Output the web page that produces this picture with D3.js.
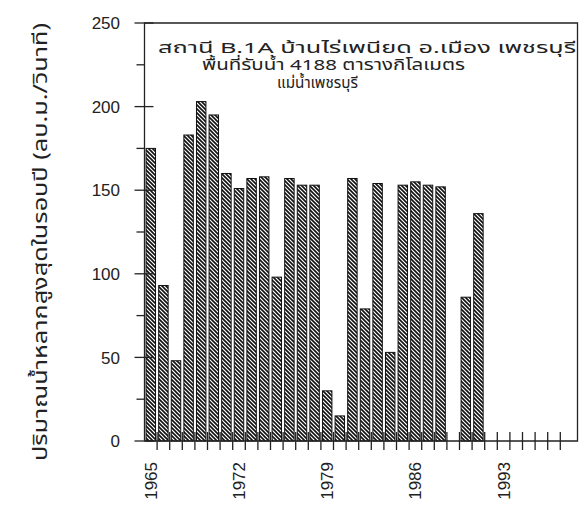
<!DOCTYPE html>
<html>
<head>
<meta charset="utf-8">
<script src="https://cdn.jsdelivr.net/npm/d3@7"></script>
<style>
  body { margin: 0; background: #fff; }
  svg text { font-family: "Liberation Sans", Arial, sans-serif; fill: #222; }
  .thai { font-family: "Noto Sans Thai", "Loma", "Garuda", "Norasi", "Noto Sans", sans-serif; }
</style>
</head>
<body>
<svg id="chart" width="579" height="505"></svg>
<script>
// Data
const years = d3.range(1965, 1999);
const flowYears = [1965, 1966, 1967, 1968, 1969, 1970, 1971, 1972, 1973, 1974, 1975, 1976, 1977, 1978, 1979, 1980,
                   1981, 1982, 1983, 1984, 1985, 1986, 1987, 1988, 1990, 1991];
const peakFlow = [175, 93, 48, 183, 203, 195, 160, 151, 157, 158, 98, 157, 153, 153, 30, 15,
                  157, 79, 154, 53, 153, 155, 153, 152, 86, 136];
const yTicks = [0, 50, 100, 150, 200, 250];
const yMinor = [25, 75, 125, 175, 225];
const xLabels = [1965, 1972, 1979, 1986, 1993];
const titleLines = [
    "สถานี B.1A  บ้านไร่เพนียด อ.เมือง เพชรบุรี",
    "พื้นที่รับน้ำ 4188 ตารางกิโลเมตร",
    "แม่น้ำเพชรบุรี"
];
const yTitle = "ปริมาณน้ำหลากสูงสุดในรอบปี (ลบ.ม./วินาที)";

const svg = d3.select("#chart");
const plotLeft = 144.5, plotTop = 23, plotBottom = 441, plotRight = 577.5;
const pad = 0.25;

// Scales
const x = d3.scaleBand()
    .domain(years)
    .range([plotLeft, plotLeft + years.length * 12.6])
    .paddingInner(pad)
    .paddingOuter(pad / 2);
const y = d3.scaleLinear().domain([0, 250]).range([plotBottom, plotTop]);

// Hatch pattern
const pat = svg.append("defs").append("pattern")
    .attr("id", "hatch")
    .attr("patternUnits", "userSpaceOnUse")
    .attr("width", 4)
    .attr("height", 4);
pat.append("rect").attr("width", 4).attr("height", 4).attr("fill", "#fff");
pat.append("path")
    .attr("d", "M-1,-1 L5,5 M-1,3 L1,5 M3,-1 L5,1")
    .attr("stroke", "#111")
    .attr("stroke-width", 1.6);

// Bars
svg.append("g")
    .selectAll("rect")
    .data(flowYears.map((yr, i) => ({ year: yr, value: peakFlow[i] })))
    .join("rect")
    .attr("x", d => x(d.year))
    .attr("y", d => y(d.value))
    .attr("width", x.bandwidth())
    .attr("height", d => plotBottom - y(d.value))
    .attr("fill", "url(#hatch)")
    .attr("stroke", "#111")
    .attr("stroke-width", 1);

// Frame
const frame = svg.append("g").attr("stroke", "#222").attr("stroke-width", 1.3).attr("fill", "none");
frame.append("path")
    .attr("d", `M${plotLeft},${plotBottom} L${plotLeft},${plotTop} L${plotRight},${plotTop} L${plotRight},${plotBottom} L${plotLeft},${plotBottom}`);

// Y ticks
frame.selectAll(".ymaj")
    .data(yTicks)
    .join("line")
    .attr("x1", plotLeft - 10).attr("x2", plotLeft + 9)
    .attr("y1", d => y(d)).attr("y2", d => y(d));
frame.selectAll(".ymin")
    .data(yMinor)
    .join("line")
    .attr("x1", plotLeft - 8).attr("x2", plotLeft)
    .attr("y1", d => y(d)).attr("y2", d => y(d));

svg.append("g")
    .selectAll("text")
    .data(yTicks)
    .join("text")
    .attr("x", 120)
    .attr("y", d => y(d))
    .attr("dy", "0.36em")
    .attr("text-anchor", "end")
    .attr("font-size", "17px")
    .text(d => d);

// X ticks (band boundaries)
const step = x.step();
frame.selectAll(".xt")
    .data(years.slice(1))
    .join("line")
    .attr("x1", d => x(d) - step * pad / 2).attr("x2", d => x(d) - step * pad / 2)
    .attr("y1", plotBottom - 9).attr("y2", plotBottom + 9);

svg.append("g")
    .selectAll("text")
    .data(xLabels)
    .join("text")
    .attr("transform", d => `translate(${x(d) + x.bandwidth() / 2 + 6},462) rotate(-90)`)
    .attr("text-anchor", "end")
    .attr("font-size", "17px")
    .text(d => d);

// Axis title
svg.append("text")
    .attr("class", "thai")
    .attr("transform", "translate(47,242) rotate(-90)")
    .attr("text-anchor", "middle")
    .attr("font-size", "19px")
    .attr("textLength", 438)
    .attr("lengthAdjust", "spacingAndGlyphs")
    .text(yTitle);

// Station title
const tx = [158, 202, 277];
const ty = [53, 70, 88];
const tw = [418, 263, 81];
svg.append("g")
    .selectAll("text")
    .data(titleLines)
    .join("text")
    .attr("class", "thai")
    .attr("x", (d, i) => tx[i])
    .attr("y", (d, i) => ty[i])
    .attr("font-size", "15px")
    .attr("textLength", (d, i) => tw[i])
    .attr("lengthAdjust", "spacingAndGlyphs")
    .text(d => d);
</script>
</body>
</html>
